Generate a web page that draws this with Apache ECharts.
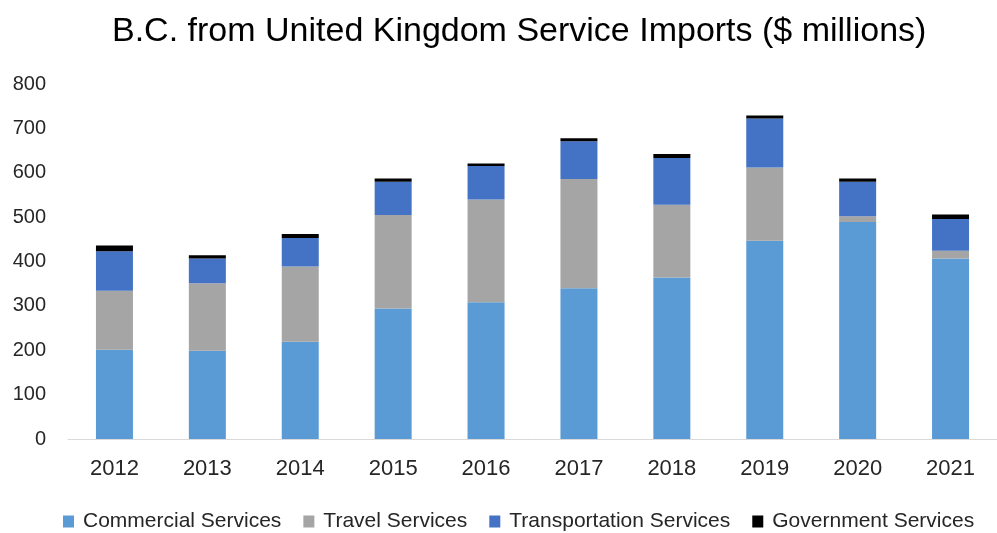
<!DOCTYPE html>
<html>
<head>
<meta charset="utf-8">
<script src="https://cdn.jsdelivr.net/npm/echarts@6/dist/echarts.min.js"></script>
<style>
  html, body { margin: 0; padding: 0; background: #ffffff; }
  #chart { width: 997px; height: 533px; }
</style>
</head>
<body>
<div id="chart"></div>
<script>
// B.C. service imports from the United Kingdom, $ millions
const years = ['2012', '2013', '2014', '2015', '2016', '2017', '2018', '2019', '2020', '2021'];
const commercial = [201, 199, 219, 294, 308, 340, 364, 447, 489, 407];
const travel = [133, 152, 170, 211, 232, 246, 164, 165, 13, 17];
const transportation = [89, 56, 64, 75, 75, 85, 105, 110, 78, 72];
const government = [13, 7, 9, 7, 6, 7, 9, 7, 7, 10];
const yTicks = [0, 100, 200, 300, 400, 500, 600, 700, 800];

const FONT = '"Liberation Sans", Arial, sans-serif';
const TEXT = '#262626';

const chart = echarts.init(document.getElementById('chart'), null, { renderer: 'canvas' });

function stackSeries(name, data, color) {
  return {
    name: name,
    type: 'bar',
    stack: 'total',
    data: data,
    barWidth: 37,
    itemStyle: { color: color },
    emphasis: { disabled: true }
  };
}

chart.setOption({
  backgroundColor: '#ffffff',
  animation: false,
  title: {
    text: 'B.C. from United Kingdom Service Imports ($ millions)',
    left: 107,
    top: 10,
    textStyle: { fontFamily: FONT, fontSize: 34, fontWeight: 'normal', color: '#000000' }
  },
  legend: {
    top: 506,
    left: 58,
    itemWidth: 11,
    itemHeight: 12,
    itemGap: 22,
    icon: 'rect',
    textStyle: { fontFamily: FONT, fontSize: 21, color: TEXT, padding: [0, 0, 0, 4] },
    data: ['Commercial Services', 'Travel Services', 'Transportation Services', 'Government Services']
  },
  grid: { left: 68, right: -10, top: 84, bottom: 94, containLabel: false },
  xAxis: {
    type: 'category',
    data: years,
    axisLine: { show: true, lineStyle: { color: '#d9d9d9', width: 1 } },
    axisTick: { show: false },
    axisLabel: { fontFamily: FONT, fontSize: 22, color: TEXT, margin: 19 }
  },
  yAxis: {
    type: 'value',
    min: yTicks[0],
    max: yTicks[yTicks.length - 1],
    interval: 100,
    axisLine: { show: false },
    axisTick: { show: false },
    splitLine: { show: false },
    axisLabel: { fontFamily: FONT, fontSize: 20, color: TEXT, margin: 22 }
  },
  series: [
    stackSeries('Commercial Services', commercial, '#5b9bd5'),
    stackSeries('Travel Services', travel, '#a5a5a5'),
    stackSeries('Transportation Services', transportation, '#4472c4'),
    stackSeries('Government Services', government, '#000000')
  ]
});
</script>
</body>
</html>
